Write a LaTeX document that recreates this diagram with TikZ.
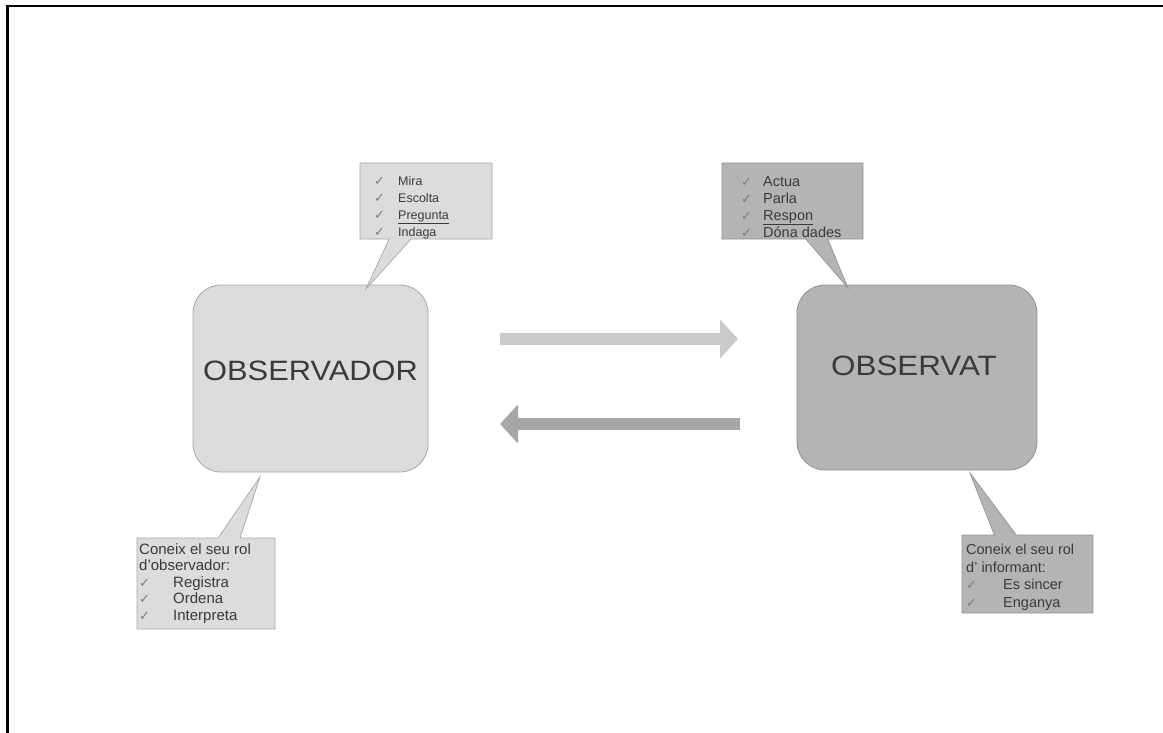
\documentclass[tikz,border=0pt]{standalone}
\usepackage{fontspec}
\setmainfont{Liberation Sans}
\newfontfamily\ckfont{DejaVu Sans}
\usetikzlibrary{shapes.callouts,arrows.meta}
\definecolor{txtcol}{HTML}{3A3A3A}
\definecolor{ckcol}{HTML}{7E7E7E}
\definecolor{lightfill}{HTML}{DCDCDC}
\definecolor{lightdraw}{HTML}{A8A8A8}
\definecolor{darkfill}{HTML}{B4B4B4}
\definecolor{darkdraw}{HTML}{939393}
\definecolor{arrowlight}{HTML}{CACACA}
\definecolor{arrowdark}{HTML}{A6A6A6}
\newcommand{\ckm}{{\color{ckcol}\ckfont\fontsize{13}{13}\selectfont ✓}}
\newcommand{\ckitem}[1]{\makebox[#1][l]{\ckm}}
\begin{document}
\begin{tikzpicture}[x=1pt,y=-1pt,
  mainbox/.style={rectangle,rounded corners=28pt,line width=0.8pt,inner sep=0pt},
  bigtext/.style={text=txtcol,font=\fontsize{28}{28}\selectfont,inner sep=0pt},
  bubble/.style={rectangle callout,line width=0.7pt,inner sep=0pt,callout pointer width=22pt},
  bubbletext/.style={text=txtcol,align=left,inner sep=0pt,anchor=base west},
  fatarrow/.style={line width=12pt,-{Triangle[width=38pt,length=18pt]}}]
\useasboundingbox (0,0) rectangle (1163,733);
% frame
\draw[line width=2.5pt,line join=miter] (1163,6.2) -- (7.3,6.2) -- (7.3,733);
% main boxes
\node[mainbox,fill=lightfill,draw=lightdraw,minimum width=235pt,minimum height=187pt] (obsr) at (310.5,378.5) {};
\node[mainbox,fill=darkfill,draw=darkdraw,minimum width=240pt,minimum height=185pt] (obst) at (917,377.5) {};
\node[bigtext] (obsrt) at ([yshift=8pt]obsr.center) {\scalebox{1.1}[1]{OBSERVADOR}};
\node[bigtext] (obstt) at ([yshift=12pt,xshift=-3pt]obst.center) {\scalebox{1.12}[1]{OBSERVAT}};
% arrows
\coordinate (a1s) at (500,339);
\coordinate (a1e) at (738,339);
\coordinate (a2s) at (740,424);
\coordinate (a2e) at (500,424);
\draw[fatarrow,draw=arrowlight,fill=arrowlight] (a1s) -- (a1e);
\draw[fatarrow,draw=arrowdark,fill=arrowdark] (a2s) -- (a2e);
% callout tips
\coordinate (t1) at (366,289);
\coordinate (t2) at (848,288);
\coordinate (t3) at (260,477);
\coordinate (t4) at (970,473);
% callouts
\node[bubble,fill=lightfill,draw=lightdraw,minimum width=132pt,minimum height=76pt,callout absolute pointer={(t1)}] (c1) at (426,201) {};
\node[bubble,fill=darkfill,draw=darkdraw,minimum width=141pt,minimum height=76pt,callout absolute pointer={(t2)}] (c2) at (792.5,201) {};
\node[bubble,fill=lightfill,draw=lightdraw,minimum width=138pt,minimum height=91pt,callout absolute pointer={(t3)}] (c3) at (206,583.5) {};
\node[bubble,fill=darkfill,draw=darkdraw,minimum width=131pt,minimum height=78pt,callout absolute pointer={(t4)}] (c4) at (1027.5,574) {};
% callout texts (anchor = baseline of last line)
\node[bubbletext,font=\fontsize{12.5}{17}\selectfont] (c1t) at (374,236.5)
  {\ckitem{24pt}Mira\\ \ckitem{24pt}Escolta\\ \ckitem{24pt}\underline{Pregunta}\\ \ckitem{24pt}Indaga};
\node[bubbletext,font=\fontsize{14.5}{17}\selectfont] (c2t) at (741,237)
  {\ckitem{22pt}Actua\\ \ckitem{22pt}Parla\\ \ckitem{22pt}\underline{Respon}\\ \ckitem{22pt}Dóna dades};
\node[bubbletext,font=\fontsize{15}{16.5}\selectfont] (c3t) at (139,620)
  {Coneix el seu rol\\ d'observador:\\ \ckitem{34pt}Registra\\ \ckitem{34pt}Ordena\\ \ckitem{34pt}Interpreta};
\node[bubbletext,font=\fontsize{14.5}{17.5}\selectfont] (c4t) at (966,607)
  {Coneix el seu rol\\ d' informant:\\ \ckitem{37pt}Es sincer\\ \ckitem{37pt}Enganya};
\end{tikzpicture}
\end{document}
